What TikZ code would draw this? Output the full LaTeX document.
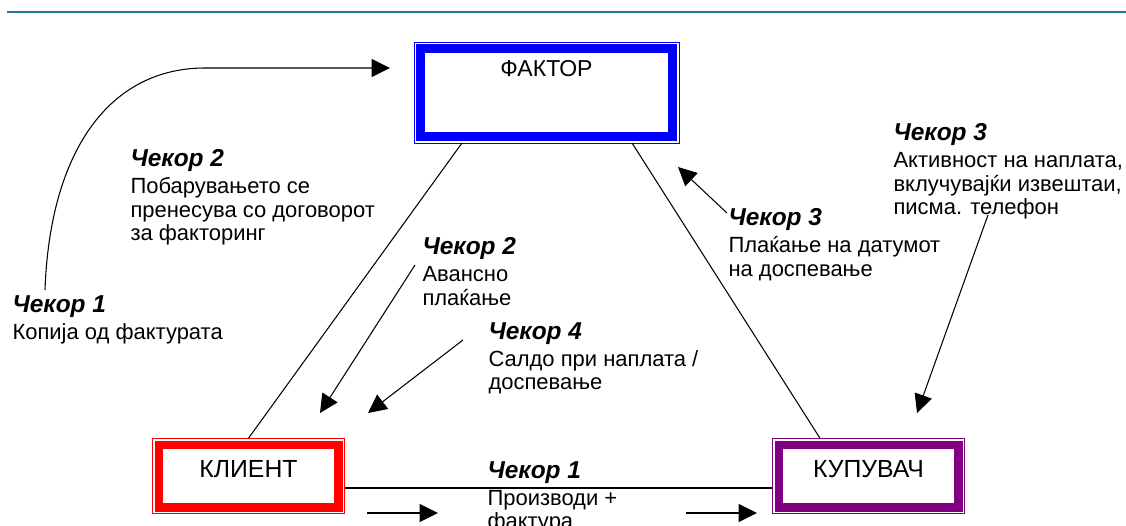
\documentclass[tikz,border=0pt]{standalone}
\usepackage{fontspec}
\setmainfont{Liberation Sans}
\usetikzlibrary{arrows.meta}
\usepackage{xcolor}
\definecolor{rulecol}{RGB}{31, 119, 168}
\definecolor{factblue}{RGB}{0, 0, 255}
\definecolor{clientred}{RGB}{255, 0, 0}
\definecolor{buyerpurple}{RGB}{128, 0, 128}
\newcommand{\headfont}{\fontsize{13.9}{13.5}\selectfont\bfseries\itshape}

\begin{document}
\begin{tikzpicture}[
    font=\fontsize{12.5}{13.5}\selectfont,
    party/.style={draw=#1, line width=0.17cm, inner sep=0pt, outer sep=0pt,
                  minimum width=3.59cm, minimum height=1.25cm,
                  text height=0.645cm, text depth=0.605cm,
                  font=\fontsize{14.1}{15}\selectfont},
    note/.style={anchor=north west, align=left, inner sep=0pt},
    flow/.style={-{Triangle[length=0.37cm, width=0.36cm]}},
    line width=0.6pt
]
    \useasboundingbox (0,0) rectangle (22.52,10.5);

    % ==========================================
    % TOP RULE
    % ==========================================
    \draw[rulecol, line width=1.2pt] (0.14,10.26) -- (22.52,10.26);

    % ==========================================
    % PARTIES (double frames)
    % ==========================================
    \node[party=factblue, minimum width=5.04cm, minimum height=1.755cm,
          text height=0.565cm, text depth=1.19cm,
          font=\fontsize{13.1}{14}\selectfont] (fak) at (10.93, 8.648) {ФАКТОР};
    \node[party=clientred]   (kli) at (4.97, 0.98)  {КЛИЕНТ};
    \node[party=buyerpurple] (kup) at (17.37, 0.98) {КУПУВАЧ};

    % thin outer frames
    \draw[factblue, line width=0.5pt] ([shift={(-0.13,-0.13)}]fak.south west) rectangle ([shift={(0.13,0.13)}]fak.north east);
    \draw[clientred, line width=0.5pt] ([shift={(-0.13,-0.13)}]kli.south west) rectangle ([shift={(0.13,0.13)}]kli.north east);
    \draw[buyerpurple, line width=0.5pt] ([shift={(-0.13,-0.13)}]kup.south west) rectangle ([shift={(0.13,0.13)}]kup.north east);

    % Triangle sides
    \draw ([xshift=-1.69cm, yshift=-0.13cm]fak.south) -- ([yshift=0.13cm]kli.north);
    \draw ([xshift=1.71cm, yshift=-0.13cm]fak.south) -- ([xshift=-0.97cm, yshift=0.13cm]kup.north);
    \draw ([xshift=0.13cm, yshift=-0.24cm]kli.east) -- ([xshift=-0.13cm, yshift=-0.24cm]kup.west);

    % ==========================================
    % FLOW ARROWS
    % ==========================================
    \coordinate (copy_s)  at (0.9, 4.7);
    \coordinate (copy_m)  at (4.1, 9.14);
    \coordinate (copy_t)  at (7.8, 9.14);
    \coordinate (adv_s)   at (8.3, 5.2);
    \coordinate (adv_t)   at (6.4, 2.24);
    \coordinate (bal_s)   at (9.26, 3.7);
    \coordinate (bal_t)   at (7.36, 2.24);
    \coordinate (pay_s)   at (14.54, 6.24);
    \coordinate (pay_t)   at (13.56, 7.16);
    \coordinate (col_s)   at (19.76, 6.2);
    \coordinate (col_t)   at (18.34, 2.24);
    \coordinate (goodsA_s) at (7.34, 0.24);
    \coordinate (goodsA_t) at (8.76, 0.24);
    \coordinate (goodsB_s) at (13.72, 0.24);
    \coordinate (goodsB_t) at (15.14, 0.24);

    \draw[flow] (copy_s) .. controls (1.0, 7.5) and (2.2, 9.14) .. (copy_m) -- (copy_t);
    \draw[flow] (adv_s) -- (adv_t);
    \draw[flow] (bal_s) -- (bal_t);
    \draw[flow] (pay_s) -- (pay_t);
    \draw[flow] (col_s) -- (col_t);
    \draw[flow] (goodsA_s) -- (goodsA_t);
    \draw[flow] (goodsB_s) -- (goodsB_t);

    % ==========================================
    % STEP TEXTS (top of first line)
    % ==========================================
    \node[note] (n_copy) at (0.24, 4.60)  {{\headfont Чекор 1}\\[0.06cm]Копија од фактурата};
    \node[note] (n_assign) at (2.6, 7.52) {{\headfont Чекор 2}\\[0.06cm]Побарувањето се\\пренесува со договорот\\за факторинг};
    \node[note] (n_adv) at (8.44, 5.76)   {{\headfont Чекор 2}\\[0.06cm]Авансно\\плаќање};
    \node[note] (n_bal) at (9.76, 4.06)   {{\headfont Чекор 4}\\[0.06cm]Салдо при наплата /\\доспевање};
    \node[note] (n_pay) at (14.56, 6.34)  {{\headfont Чекор 3}\\[0.06cm]Плаќање на датумот\\на доспевање};
    \node[note] (n_col) at (17.86, 8.04)  {{\headfont Чекор 3}\\[0.06cm]Активност на наплата,\\вклучувајќи извештаи,\\писма. телефон};
    \node[note] (n_goods) at (9.74, 1.28) {{\headfont Чекор 1}\\[0.06cm]Производи +\\фактура};

\end{tikzpicture}
\end{document}
